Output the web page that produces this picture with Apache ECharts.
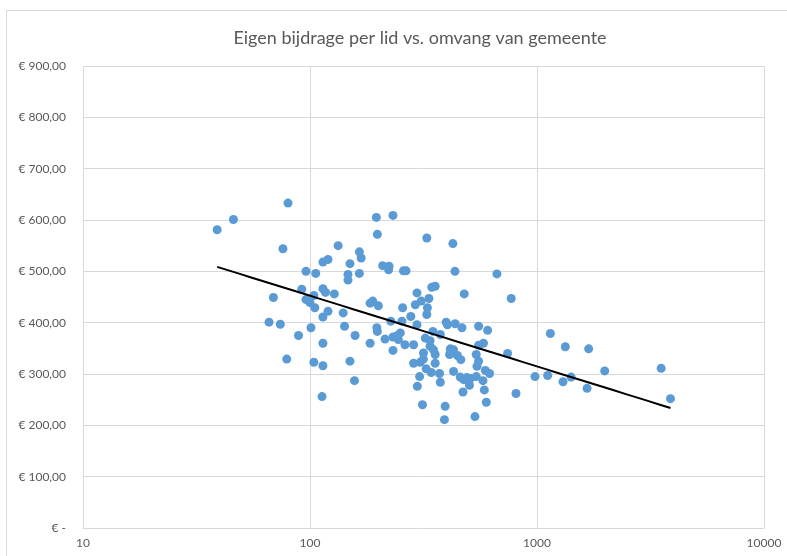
<!DOCTYPE html>
<html>
<head>
<meta charset="utf-8">
<script src="https://cdn.jsdelivr.net/npm/echarts@6/dist/echarts.min.js"></script>
<style>
  html, body { margin: 0; padding: 0; background: #fff; }
  #chart { width: 787px; height: 556px; }
</style>
</head>
<body>
<div id="chart"></div>
<script>
// omvang gemeente (x, log) en eigen bijdrage per lid (y)
var omvang = [
  39, 46, 80, 76, 96, 106, 114, 120, 92, 114, 117, 69, 96, 104, 100, 105,
  114, 120, 66, 74, 101, 89, 114, 79, 104, 114, 113,
  196, 232, 198, 327, 426, 133, 165, 168, 150, 209, 223, 222, 258, 265, 435, 147, 147, 165,
  128, 296, 344, 356, 309, 291, 334, 184, 189, 200, 256, 329,
  327, 278, 140, 142, 158, 197, 198, 227, 254, 296, 250, 243, 232, 214, 245, 184, 262, 286,
  232, 322, 338, 348, 375, 398, 403, 436, 338, 350, 316, 356, 415, 429, 412, 446, 150, 157,
  286, 306, 316, 325, 342, 356, 372, 429, 304, 297, 375, 313, 394, 391,
  467, 553, 606, 1145, 1333, 1689, 581, 553, 462, 540, 742, 553, 544, 592, 618, 459, 475,
  491, 508, 540, 578, 504, 586, 472, 808, 598, 533, 980, 1114, 1302, 1413, 1662,
  666, 478, 770,
  1987, 3524, 3873
];
var bijdrage = [
  581, 601, 633, 544, 500, 496, 518, 523, 465, 466, 459, 449, 445, 453, 439, 429,
  411, 422, 401, 397, 390, 375, 360, 329, 323, 316, 256,
  605, 609, 572, 565, 554, 550, 538, 526, 515, 511, 510, 503, 501, 501, 500, 494, 483, 496,
  456, 458, 469, 471, 442, 435, 447, 438, 442, 433, 429, 429,
  416, 412, 419, 393, 375, 390, 383, 403, 403, 396, 380, 375, 372, 368, 367, 360, 357, 357,
  346, 370, 365, 383, 377, 401, 396, 398, 354, 347, 341, 338, 349, 347, 338, 336, 325, 287,
  321, 323, 329, 310, 303, 321, 301, 305, 295, 276, 284, 240, 237, 211,
  390, 393, 385, 379, 353, 349, 360, 356, 328, 338, 340, 325, 315, 307, 301, 294, 289,
  293, 291, 295, 287, 278, 269, 265, 262, 245, 217, 295, 297, 285, 294, 272,
  495, 456, 447,
  306, 311, 252
];
var xTicks = [10, 100, 1000, 10000];
var yTicks = [0, 100, 200, 300, 400, 500, 600, 700, 800, 900];

var punten = omvang.map(function (x, i) { return [x, bijdrage[i]]; });

// logaritmische trendlijn (y = a + b ln x), zoals in Excel
var n = omvang.length, sx = 0, sy = 0, sxx = 0, sxy = 0;
for (var i = 0; i < n; i++) {
  var lx = Math.log(omvang[i]);
  sx += lx; sy += bijdrage[i]; sxx += lx * lx; sxy += lx * bijdrage[i];
}
var b = (n * sxy - sx * sy) / (n * sxx - sx * sx);
var a = (sy - b * sx) / n;
var xMin = Math.min.apply(null, omvang), xMax = Math.max.apply(null, omvang);
var trend = [];
for (var k = 0; k <= 40; k++) {
  var xv = Math.exp(Math.log(xMin) + (Math.log(xMax) - Math.log(xMin)) * k / 40);
  trend.push([xv, a + b * Math.log(xv)]);
}

var myChart = echarts.init(document.getElementById('chart'));
var tekst = '#595959';
var option = {
  animation: false,
  backgroundColor: '#fff',
  title: {
    text: 'Eigen bijdrage per lid vs. omvang van gemeente',
    left: 415,
    top: 24,
    textAlign: 'center',
    textStyle: { fontFamily: 'Lato', fontSize: 18, fontWeight: 'normal', color: tekst }
  },
  graphic: [{
    type: 'rect',
    shape: { x: 6.5, y: 10.5, width: 900, height: 700 },
    style: { fill: 'none', stroke: '#D9D9D9', lineWidth: 1 },
    silent: true,
    z: -1
  }],
  grid: { left: 83, right: 23, top: 66, bottom: 28 },
  xAxis: {
    type: 'log',
    logBase: 10,
    min: xTicks[0],
    max: xTicks[xTicks.length - 1],
    axisLine: { show: true, lineStyle: { color: '#D9D9D9', width: 1 } },
    axisTick: { show: false },
    minorTick: { show: false },
    splitLine: { show: true, lineStyle: { color: '#D9D9D9', width: 1 } },
    axisLabel: {
      color: tekst, fontFamily: 'Lato', fontSize: 12, margin: 9,
      formatter: function (v) { return String(Math.round(v)); }
    }
  },
  yAxis: {
    type: 'value',
    min: yTicks[0],
    max: yTicks[yTicks.length - 1],
    interval: 100,
    axisLine: { show: false },
    axisTick: { show: false },
    splitLine: { show: true, lineStyle: { color: '#D9D9D9', width: 1 } },
    axisLabel: {
      color: tekst, fontFamily: 'Lato', fontSize: 12, margin: 17,
      formatter: function (v) {
        return v === 0 ? '€ -' : '€ ' + v.toFixed(2).replace('.', ',');
      }
    }
  },
  series: [
    {
      type: 'scatter',
      data: punten,
      symbolSize: 9,
      itemStyle: { color: '#5B9BD5', opacity: 1 },
      z: 2
    },
    {
      type: 'line',
      data: trend,
      showSymbol: false,
      symbol: 'none',
      lineStyle: { color: '#000', width: 2 },
      z: 3
    }
  ]
};
myChart.setOption(option);
</script>
</body>
</html>
